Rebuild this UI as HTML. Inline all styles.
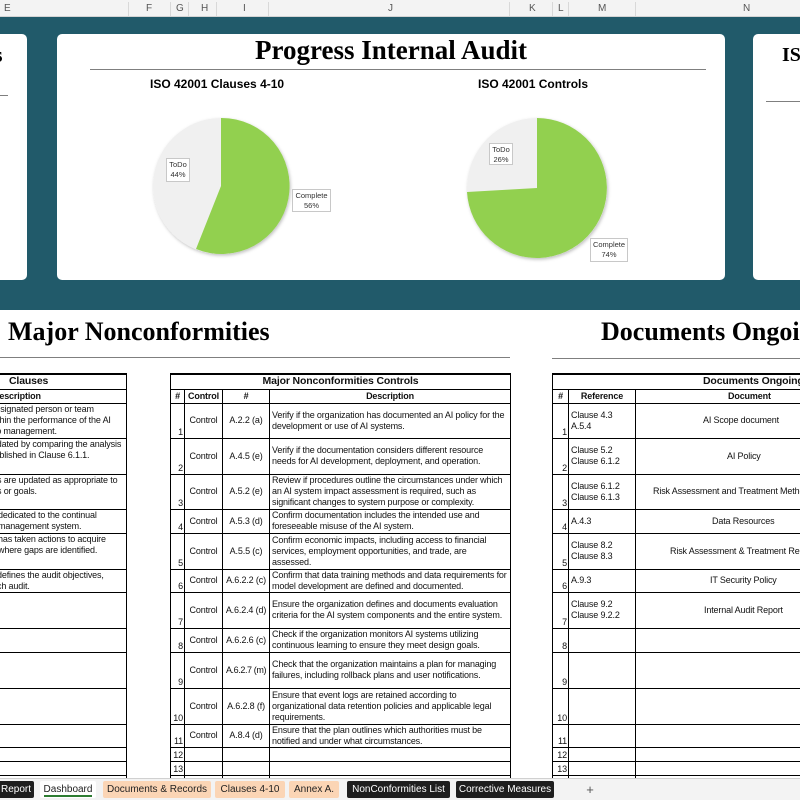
<!DOCTYPE html>
<html><head><meta charset="utf-8">
<style>
*{margin:0;padding:0;box-sizing:border-box}
body{width:800px;height:800px;overflow:hidden;position:relative;background:#fff;font-family:"Liberation Sans",Arial,sans-serif}
.a{position:absolute}
.colhdr{left:0;top:0;width:800px;height:17px;background:#f3f3f3;border-bottom:1px solid #d4d4d4;font-size:10px;color:#555}
.colhdr span{position:absolute;top:3px}
.colhdr i{position:absolute;top:2px;height:14px;width:1px;background:#d8d8d8}
.teal{left:0;top:17px;width:800px;height:293px;background:#215a6a}
.panel{background:#fff;border-radius:5px;top:34px;height:246px}
.serif{font-family:"Liberation Serif",Cambria,serif;font-weight:bold;white-space:nowrap}
.hl{height:1px;background:#7f7f7f}
.sub{font-size:12px;font-weight:bold;font-family:"Liberation Sans",Calibri,sans-serif}
.lbl{background:#fff;border:1px solid #c8c8c8;font-size:7.5px;text-align:center;line-height:10px;color:#333;padding-top:1px}
table{border-collapse:collapse;table-layout:fixed;position:absolute;font-size:9px;color:#111;letter-spacing:-0.15px}
td{border:1px solid #000;vertical-align:middle;padding:0 2px;overflow:hidden;line-height:11px}
td.n{text-align:right;vertical-align:bottom;padding:0 1px}
td.c{text-align:center;white-space:nowrap;padding:0}
.nw td{white-space:nowrap}
tr.t td{font-weight:bold;font-size:10.5px;text-align:center;border-top:2px solid #000;white-space:nowrap}
tr.h td{font-weight:bold;text-align:center;white-space:nowrap}
.tab{top:781px;height:17px;font-size:10px;line-height:17px;text-align:center;border-radius:2px}
.blk{background:#1e1e1e;color:#fff}
.pch{background:#fbd5b5;color:#222}
</style></head><body>
<div class="a colhdr">
<span style="left:4px">E</span><i style="left:128px"></i><span style="left:146px">F</span><i style="left:170px"></i><span style="left:176px">G</span><i style="left:188px"></i><span style="left:201px">H</span><i style="left:216px"></i><span style="left:243px">I</span><i style="left:268px"></i><span style="left:388px">J</span><i style="left:509px"></i><span style="left:529px">K</span><i style="left:552px"></i><span style="left:558px">L</span><i style="left:568px"></i><span style="left:598px">M</span><i style="left:635px"></i><span style="left:743px">N</span>
</div>
<div class="a teal"></div>
<div class="a panel" style="left:-10px;width:37px"></div>
<div class="a serif" style="left:-6px;top:42px;font-size:22px">s</div>
<div class="a hl" style="left:0;top:95px;width:8px"></div>
<div class="a panel" style="left:57px;width:668px"></div>
<div class="a panel" style="left:753px;width:60px"></div>
<div class="a serif" style="left:782px;top:44px;font-size:20px">ISO</div>
<div class="a hl" style="left:766px;top:101px;width:40px"></div>

<div class="a serif" style="left:57px;width:668px;top:35px;text-align:center;font-size:27px">Progress Internal Audit</div>
<div class="a hl" style="left:90px;top:69px;width:616px"></div>
<div class="a sub" style="left:150px;top:77px">ISO 42001 Clauses 4-10</div>
<div class="a sub" style="left:478px;top:77px">ISO 42001 Controls</div>

<svg class="a" style="left:0;top:0" width="800" height="300">
<defs><filter id="s" x="-20%" y="-20%" width="140%" height="140%"><feDropShadow dx="1" dy="1.5" stdDeviation="1.5" flood-opacity="0.25"/></filter></defs>
<g filter="url(#s)">
<circle cx="221" cy="186" r="68" fill="#f0f0f0"/>
<path d="M221,186 L221,118 A68,68 0 1,1 196,249 Z" fill="#92d050"/>
<circle cx="537" cy="188" r="70" fill="#f0f0f0"/>
<path d="M537,188 L537,118 A70,70 0 1,1 467,192 Z" fill="#92d050"/>
</g>
</svg>
<div class="a lbl" style="left:166px;top:158px;width:24px;height:24px">ToDo<br>44%</div>
<div class="a lbl" style="left:292px;top:189px;width:39px;height:23px">Complete<br>56%</div>
<div class="a lbl" style="left:489px;top:143px;width:24px;height:22px">ToDo<br>26%</div>
<div class="a lbl" style="left:590px;top:238px;width:38px;height:24px">Complete<br>74%</div>

<div class="a serif" style="left:8px;top:317px;font-size:26px">Major Nonconformities</div>
<div class="a hl" style="left:0;top:357px;width:510px"></div>
<div class="a serif" style="left:601px;top:317px;font-size:26px">Documents Ongoing</div>
<div class="a hl" style="left:552px;top:358px;width:260px"></div>

<!-- left table -->
<table class="nw" style="left:-40px;top:373px;width:166px">
<colgroup><col style="width:166px"></colgroup>
<tr class="t" style="height:15px"><td style="text-align:left;padding-left:48px">Clauses</td></tr>
<tr class="h" style="height:14px"><td style="text-align:left;padding-left:32px">Description</td></tr>
<tr style="height:35px"><td style="vertical-align:top;padding-left:28px">Designated person or team<br>within the performance of the AI<br>top management.</td></tr>
<tr style="height:36px"><td style="vertical-align:top;padding-left:22px">Validated by comparing the analysis<br>established in Clause 6.1.1.</td></tr>
<tr style="height:35px"><td style="vertical-align:top;padding-left:36px">s are updated as appropriate to<br>s or goals.</td></tr>
<tr style="height:24px"><td style="vertical-align:top;padding-left:37px">dedicated to the continual<br>management system.</td></tr>
<tr style="height:36px"><td style="vertical-align:top;padding-left:37px">has taken actions to acquire<br>where gaps are identified.</td></tr>
<tr style="height:23px"><td style="vertical-align:top;padding-left:36px">defines the audit objectives,<br>ch audit.</td></tr>
<tr style="height:36px"><td></td></tr><tr style="height:24px"><td></td></tr><tr style="height:36px"><td></td></tr><tr style="height:36px"><td></td></tr><tr style="height:23px"><td></td></tr><tr style="height:14px"><td></td></tr><tr style="height:14px"><td></td></tr><tr style="height:14px"><td></td></tr>
</table>

<!-- middle table -->
<table style="left:170px;top:373px;width:340px">
<colgroup><col style="width:14px"><col style="width:38px"><col style="width:47px"><col style="width:241px"></colgroup>
<tr class="t" style="height:15px"><td colspan="4">Major Nonconformities Controls</td></tr>
<tr class="h" style="height:14px"><td>#</td><td>Control</td><td>#</td><td>Description</td></tr>
<tr style="height:35px"><td class="n">1</td><td class="c">Control</td><td class="c">A.2.2 (a)</td><td>Verify if the organization has documented an AI policy for the development or use of AI systems.</td></tr>
<tr style="height:36px"><td class="n">2</td><td class="c">Control</td><td class="c">A.4.5 (e)</td><td>Verify if the documentation considers different resource needs for AI development, deployment, and operation.</td></tr>
<tr style="height:35px"><td class="n">3</td><td class="c">Control</td><td class="c">A.5.2 (e)</td><td>Review if procedures outline the circumstances under which an AI system impact assessment is required, such as significant changes to system purpose or complexity.</td></tr>
<tr style="height:24px"><td class="n">4</td><td class="c">Control</td><td class="c">A.5.3 (d)</td><td>Confirm documentation includes the intended use and foreseeable misuse of the AI system.</td></tr>
<tr style="height:36px"><td class="n">5</td><td class="c">Control</td><td class="c">A.5.5 (c)</td><td>Confirm economic impacts, including access to financial services, employment opportunities, and trade, are assessed.</td></tr>
<tr style="height:23px"><td class="n">6</td><td class="c">Control</td><td class="c">A.6.2.2 (c)</td><td>Confirm that data training methods and data requirements for model development are defined and documented.</td></tr>
<tr style="height:36px"><td class="n">7</td><td class="c">Control</td><td class="c">A.6.2.4 (d)</td><td>Ensure the organization defines and documents evaluation criteria for the AI system components and the entire system.</td></tr>
<tr style="height:24px"><td class="n">8</td><td class="c">Control</td><td class="c">A.6.2.6 (c)</td><td>Check if the organization monitors AI systems utilizing continuous learning to ensure they meet design goals.</td></tr>
<tr style="height:36px"><td class="n">9</td><td class="c">Control</td><td class="c" style="letter-spacing:-0.4px">A.6.2.7 (m)</td><td>Check that the organization maintains a plan for managing failures, including rollback plans and user notifications.</td></tr>
<tr style="height:36px"><td class="n">10</td><td class="c">Control</td><td class="c">A.6.2.8 (f)</td><td>Ensure that event logs are retained according to organizational data retention policies and applicable legal requirements.</td></tr>
<tr style="height:23px"><td class="n">11</td><td class="c">Control</td><td class="c">A.8.4 (d)</td><td>Ensure that the plan outlines which authorities must be notified and under what circumstances.</td></tr>
<tr style="height:14px"><td class="n">12</td><td></td><td></td><td></td></tr>
<tr style="height:14px"><td class="n">13</td><td></td><td></td><td></td></tr>
<tr style="height:14px"><td class="n"></td><td></td><td></td><td></td></tr>
</table>

<!-- right table -->
<table class="nw" style="left:552px;top:373px;width:340px">
<colgroup><col style="width:16px"><col style="width:67px"><col style="width:257px"></colgroup>
<tr class="t" style="height:15px"><td colspan="3" style="text-align:left;padding-left:150px">Documents Ongoing</td></tr>
<tr class="h" style="height:14px"><td>#</td><td>Reference</td><td style="text-align:left;padding-left:92px">Document</td></tr>
<tr style="height:35px"><td class="n">1</td><td>Clause 4.3<br>A.5.4</td><td style="text-align:left;padding-left:67px">AI Scope document</td></tr>
<tr style="height:36px"><td class="n">2</td><td>Clause 5.2<br>Clause 6.1.2</td><td style="text-align:left;padding-left:91px">AI Policy</td></tr>
<tr style="height:35px"><td class="n">3</td><td>Clause 6.1.2<br>Clause 6.1.3</td><td style="text-align:left;padding-left:17px">Risk Assessment and Treatment Methodology</td></tr>
<tr style="height:24px"><td class="n">4</td><td>A.4.3</td><td style="text-align:left;padding-left:76px">Data Resources</td></tr>
<tr style="height:36px"><td class="n">5</td><td>Clause 8.2<br>Clause 8.3</td><td style="text-align:left;padding-left:34px">Risk Assessment &amp; Treatment Report</td></tr>
<tr style="height:23px"><td class="n">6</td><td>A.9.3</td><td style="text-align:left;padding-left:74px">IT Security Policy</td></tr>
<tr style="height:36px"><td class="n">7</td><td>Clause 9.2<br>Clause 9.2.2</td><td style="text-align:left;padding-left:68px">Internal Audit Report</td></tr>
<tr style="height:24px"><td class="n">8</td><td></td><td></td></tr>
<tr style="height:36px"><td class="n">9</td><td></td><td></td></tr>
<tr style="height:36px"><td class="n">10</td><td></td><td></td></tr>
<tr style="height:23px"><td class="n">11</td><td></td><td></td></tr>
<tr style="height:14px"><td class="n">12</td><td></td><td></td></tr>
<tr style="height:14px"><td class="n">13</td><td></td><td></td></tr>
<tr style="height:14px"><td class="n"></td><td></td><td></td></tr>
</table>

<div class="a" style="left:0;top:778px;width:800px;height:22px;background:#f3f3f3;border-top:1px solid #d0d0d0"></div>
<div class="a tab blk" style="left:-2px;width:36px">Report</div>
<div class="a tab" style="left:40px;width:56px;background:#fff;color:#222"><span style="border-bottom:2px solid #2e7d32">Dashboard</span></div>
<div class="a tab pch" style="left:103px;width:108px">Documents &amp; Records</div>
<div class="a tab pch" style="left:215px;width:70px">Clauses 4-10</div>
<div class="a tab pch" style="left:289px;width:50px">Annex A.</div>
<div class="a tab blk" style="left:347px;width:103px">NonConformities List</div>
<div class="a tab blk" style="left:456px;width:98px">Corrective Measures</div>
<div class="a tab" style="left:583px;width:14px;color:#555;font-size:13px">+</div>
</body></html>
